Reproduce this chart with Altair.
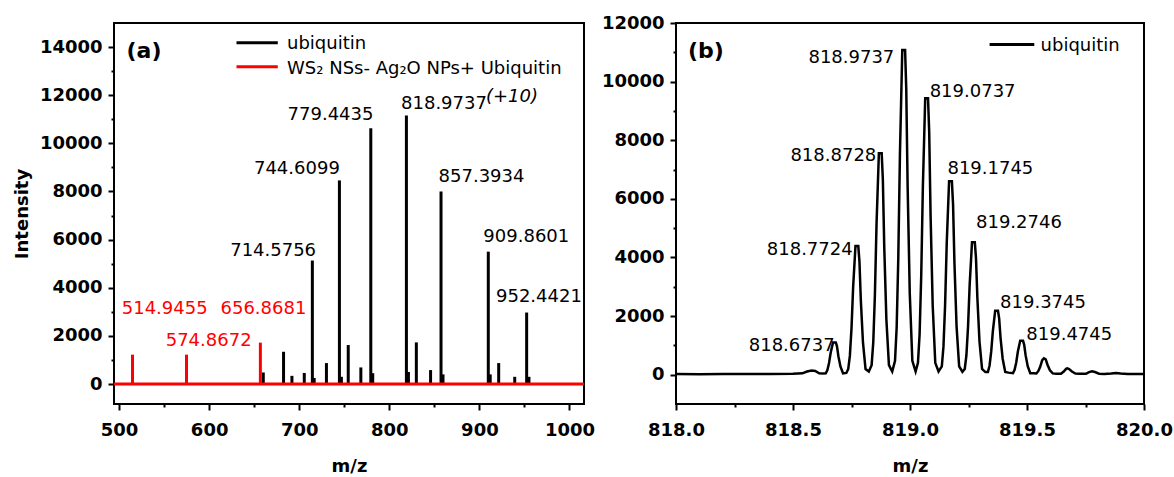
import altair as alt
import pandas as pd

# ---------------- Panel (a): stick spectra ----------------
ubi_mz = [660.1, 682.6, 691.9, 705.6, 714.5756, 716.6, 730.2, 744.6099, 746.8, 754.4,
          768.4, 779.4435, 781.6, 818.9737, 821.2, 830.0, 845.8, 857.3934, 859.6,
          909.8601, 912.0, 921.4, 939.2, 952.4421, 955.0]
ubi_int = [480, 1340, 340, 460, 5130, 250, 870, 8460, 300, 1620,
           690, 10630, 450, 11160, 500, 1730, 580, 8000, 400,
           5500, 400, 870, 300, 2970, 300]

ws2_mz = [514.9455, 574.8672, 656.8681]
ws2_int = [1220, 1220, 1720]

# peak annotations (anchor in data units)
a_right_text = ["714.5756", "744.6099", "779.4435"]
a_right_mz = [718.7, 745.1, 782.4]
a_right_int = [5308, 8707, 10982]

a_left_text = ["818.9737", "857.3934", "909.8601", "952.4421"]
a_left_mz = [813.0, 854.7, 904.4, 918.4]
a_left_int = [11440, 8387, 5891, 3395]

a_red_text = ["514.9455", "574.8672", "656.8681"]
a_red_mz = [503.0, 551.8, 612.6]
a_red_int = [2912, 1593, 2912]

charge_text = ["(+10)"]
charge_mz = [907.3]
charge_int = [11714]

# ---------------- Panel (b): isotope profile ----------------
b_mz = [818.000, 818.100, 818.200, 818.300, 818.400, 818.500, 818.540, 818.560, 818.580, 818.595, 818.612, 818.628,
        818.640, 818.647, 818.654, 818.661, 818.671, 818.683, 818.688, 818.694, 818.703, 818.714, 818.728,
        818.736, 818.743, 818.750, 818.757, 818.767, 818.779, 818.784, 818.790, 818.799, 818.810, 818.824,
        818.836, 818.843, 818.850, 818.857, 818.867, 818.879, 818.884, 818.890, 818.899, 818.910, 818.924,
        818.936, 818.943, 818.950, 818.957, 818.967, 818.979, 818.984, 818.990, 818.999, 819.010, 819.024,
        819.034, 819.041, 819.048, 819.055, 819.065, 819.077, 819.082, 819.088, 819.097, 819.108, 819.122,
        819.136, 819.143, 819.150, 819.157, 819.167, 819.179, 819.184, 819.190, 819.199, 819.210, 819.224,
        819.234, 819.241, 819.248, 819.255, 819.265, 819.277, 819.282, 819.288, 819.297, 819.308, 819.322,
        819.333, 819.340, 819.347, 819.354, 819.364, 819.376, 819.381, 819.387, 819.396, 819.407, 819.421,
        819.440, 819.447, 819.454, 819.461, 819.471, 819.483, 819.488, 819.494, 819.503, 819.514, 819.528,
        819.540, 819.548, 819.556, 819.565, 819.572, 819.580, 819.588, 819.598, 819.610, 819.625,
        819.645, 819.657, 819.667, 819.672, 819.680, 819.692, 819.707, 819.725,
        819.752, 819.765, 819.778, 819.790, 819.808, 819.830,
        819.860, 819.880, 819.900, 819.930, 819.960, 820.000]
b_int = [20, 18, 20, 22, 25, 30, 45, 110, 140, 125, 50, 40,
         47, 160, 400, 750, 1100, 1100, 970, 630, 275, 47, 60,
         190, 640, 1580, 2990, 4390, 4390, 3860, 2520, 1100, 190, 110,
         325, 1100, 2720, 5140, 7560, 7560, 6650, 4350, 1890, 325, 110,
         476, 1610, 3990, 7530, 11080, 11080, 9750, 6370, 2770, 476, 110,
         405, 1370, 3390, 6410, 9430, 9430, 8300, 5420, 2360, 405, 110,
         284, 957, 2380, 4490, 6600, 6600, 5810, 3800, 1650, 284, 100,
         194, 655, 1630, 3070, 4520, 4520, 3980, 2600, 1130, 194, 90,
         94, 316, 785, 1480, 2180, 2180, 1920, 1250, 545, 94, 70,
         50, 168, 418, 790, 1160, 1160, 1020, 667, 290, 50, 45,
         40, 120, 260, 500, 556, 520, 330, 150, 45, 30,
         35, 110, 200, 215, 190, 110, 40, 30,
         30, 90, 113, 90, 35, 25,
         40, 60, 40, 20, 20, 20]

b_right_text = ["818.6737", "818.7724", "818.8728", "818.9737"]
b_right_mz = [818.678, 818.755, 818.856, 818.933]
b_right_int = [816, 4081, 7278, 10621]

b_left_text = ["819.0737", "819.1745", "819.2746", "819.3745", "819.4745"]
b_left_mz = [819.084, 819.160, 819.282, 819.385, 819.497]
b_left_int = [9465, 6860, 4989, 2268, 1190]

a_xticks = [500 + 50 * i for i in range(11)]
a_yticks = [1000 * i for i in range(15)]
b_xticks = [818 + 0.25 * i for i in range(9)]
b_yticks = [1000 * i for i in range(13)]

# ---------------- styling ----------------
W_A, W_B, H = 470, 468, 381
FONT = "DejaVu Sans"
RED = "#ff0000"


def minor(test):
    return {"condition": {"test": test, "value": 3}, "value": 6}


sx_a = alt.Scale(domain=[494.4, 1016.1], nice=False, zero=False)
sy_a = alt.Scale(domain=[-830, 15000], nice=False, zero=False)
sx_b = alt.Scale(domain=[818, 820], nice=False, zero=False)
sy_b = alt.Scale(domain=[-1000, 12000], nice=False, zero=False)

xa = alt.X("mz:Q", scale=sx_a, title="m/z",
           axis=alt.Axis(values=a_xticks, format="d",
                         labelExpr="datum.value % 100 == 0 ? datum.label : ''",
                         tickSize=minor("datum.value % 100 != 0")))
ya = alt.Y("intensity:Q", scale=sy_a, title="Intensity",
           axis=alt.Axis(values=a_yticks, format="d",
                         labelExpr="datum.value % 2000 == 0 ? datum.label : ''",
                         tickSize=minor("datum.value % 2000 != 0")))
xb = alt.X("mz:Q", scale=sx_b, title="m/z",
           axis=alt.Axis(values=b_xticks,
                         labelExpr="round(datum.value * 4) % 2 == 0 ? format(datum.value, '.1f') : ''",
                         tickSize=minor("round(datum.value * 4) % 2 != 0")))
yb = alt.Y("intensity:Q", scale=sy_b, title="",
           axis=alt.Axis(values=b_yticks, format="d",
                         labelExpr="datum.value % 2000 == 0 ? datum.label : ''",
                         tickSize=minor("datum.value % 2000 != 0")))

one = pd.DataFrame({"k": [0]})

# ---------- panel (a) ----------
ubi_df = pd.DataFrame({"mz": ubi_mz, "intensity": ubi_int})
ws2_df = pd.DataFrame({"mz": ws2_mz, "intensity": ws2_int})

black_sticks = alt.Chart(ubi_df).mark_rule(color="black", strokeWidth=3).encode(
    x=xa, y=ya, y2=alt.datum(0))
red_sticks = alt.Chart(ws2_df).mark_rule(color=RED, strokeWidth=3).encode(
    x=xa, y=ya, y2=alt.datum(0))
red_base = alt.Chart(pd.DataFrame({"intensity": [0]})).mark_rule(color=RED, strokeWidth=3).encode(
    y=ya, x=alt.value(0), x2=alt.value(W_A))


def labels(texts, mzs, ints, x, y, align, color="black", style="normal"):
    df = pd.DataFrame({"label": texts, "mz": mzs, "intensity": ints})
    return alt.Chart(df).mark_text(align=align, baseline="alphabetic", font=FONT, fontSize=18,
                                   color=color, fontStyle=style).encode(x=x, y=y, text="label:N")


lab_a_r = labels(a_right_text, a_right_mz, a_right_int, xa, ya, "right")
lab_a_l = labels(a_left_text, a_left_mz, a_left_int, xa, ya, "left")
lab_a_red = labels(a_red_text, a_red_mz, a_red_int, xa, ya, "left", color=RED)
lab_charge = labels(charge_text, charge_mz, charge_int, xa, ya, "left", style="italic")


def fixed_text(txt, x, y, size=18, weight="normal", color="black"):
    return alt.Chart(one).mark_text(align="left", baseline="alphabetic", font=FONT, fontSize=size,
                                    fontWeight=weight, color=color).encode(
        x=alt.value(x), y=alt.value(y), text=alt.value(txt))


def legend_line(x1, x2, y, color):
    return alt.Chart(one).mark_rule(color=color, strokeWidth=3).encode(
        x=alt.value(x1), x2=alt.value(x2), y=alt.value(y))


panel_a = alt.layer(
    black_sticks, red_sticks, red_base,
    lab_a_r, lab_a_l, lab_a_red, lab_charge,
    fixed_text("(a)", 12.5, 35, size=22, weight="bold"),
    legend_line(122.5, 163.8, 19.7, "black"),
    legend_line(122.5, 163.8, 43.7, RED),
    fixed_text("ubiquitin", 173, 26.3),
    fixed_text("WS\u2082 NSs- Ag\u2082O NPs+ Ubiquitin", 173, 50.5),
).properties(width=W_A, height=H)

# ---------- panel (b) ----------
prof_df = pd.DataFrame({"mz": b_mz, "intensity": b_int})
profile = alt.Chart(prof_df).mark_line(color="black", strokeWidth=2.5).encode(x=xb, y=yb)
lab_b_r = labels(b_right_text, b_right_mz, b_right_int, xb, yb, "right")
lab_b_l = labels(b_left_text, b_left_mz, b_left_int, xb, yb, "left")

panel_b = alt.layer(
    profile, lab_b_r, lab_b_l,
    fixed_text("(b)", 12, 35, size=22, weight="bold"),
    legend_line(313.6, 358.3, 21.6, "black"),
    fixed_text("ubiquitin", 364.6, 28.3),
).properties(width=W_B, height=H)

chart = alt.hconcat(panel_a, panel_b, spacing=92, bounds="flush").properties(
    padding={"left": 12, "top": 13, "right": 0, "bottom": 2}
).configure_axis(
    labelFont=FONT, labelFontSize=18, labelFontWeight="bold", labelColor="black",
    titleFont=FONT, titleFontSize=18, titleFontWeight="bold", titleColor="black",
    tickColor="black", tickWidth=2, domain=False, grid=False, labelFlush=False,
    labelOverlap=False,
).configure_axisX(labelPadding=11, titlePadding=18).configure_axisY(
    labelPadding=6, titlePadding=8
).configure_view(stroke="black", strokeWidth=2)

chart.save("out.html", embed_options={"renderer": "svg", "actions": False})
